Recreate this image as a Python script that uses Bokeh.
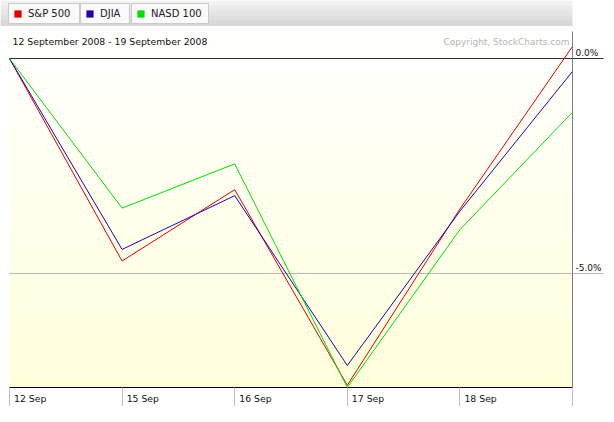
import numpy as np
from bokeh.plotting import figure
from bokeh.models import (Range1d, FixedTicker, Label, Legend, LegendItem, BoxAnnotation)
from bokeh.embed import file_html
from bokeh.resources import INLINE

# ---- data ----
dates = ["12 Sep", "15 Sep", "16 Sep", "17 Sep", "18 Sep", "19 Sep"]
sp500 = [0.0, -4.71, -3.05, -7.60, -3.50, 0.28]
djia = [0.0, -4.44, -3.19, -7.14, -3.55, -0.30]
nasd100 = [0.0, -3.48, -2.45, -7.65, -3.98, -1.25]
series_names = ["S&P 500", "DJIA", "NASD 100"]
series_colors = ["#e00000", "#2200aa", "#00dd00"]
y_ticks = [0.0, -5.0]
y_tick_labels = ["0.0%", "-5.0%"]
ref_line_colors = ["#303030", "#b8b8b8"]
date_range_text = "12 September 2008 - 19 September 2008"
copyright_text = "Copyright, StockCharts.com"

FONT = "DejaVu Sans"
idx = list(range(len(dates)))

# ---- layout (pixels) ----
W, H = 604, 406
BR, BB = 31, 19
FW, FH = W - BR, H - BB          # frame spans canvas x 0..573, y 0..387
PLOT_LEFT, PLOT_TOP = 9, 31      # inner chart box inside the frame
PX_Y = 43.0                      # pixels per 1 %
ZERO_Y = 58                      # pixel row of 0 %
px_x = (FW - PLOT_LEFT) / (len(dates) - 1)

y_min = -(FH - ZERO_Y) / PX_Y
y_top = ZERO_Y / PX_Y
y_plot_top = (ZERO_Y - PLOT_TOP) / PX_Y
x_start = -PLOT_LEFT / px_x
x_end = len(dates) - 1

p = figure(width=W, height=H, output_backend="svg", toolbar_location=None,
           x_range=Range1d(x_start, x_end), y_range=Range1d(y_min, y_top),
           y_axis_location="right", min_border_left=0, min_border_right=BR,
           min_border_top=0, min_border_bottom=BB)
p.outline_line_color = None
p.xgrid.visible = False
p.ygrid.visible = False
p.background_fill_color = "white"
p.border_fill_color = "white"

# background gradient (white -> pale yellow) inside the chart box
n_bands = 80
edges = np.linspace(y_plot_top, y_min, n_bands + 1)
c0 = np.array([255, 255, 255])
c1 = np.array([255, 255, 218])
cols = []
for i in range(n_bands):
    t = (i + 0.5) / n_bands
    c = (c0 + (c1 - c0) * t).astype(int)
    cols.append("#%02x%02x%02x" % tuple(c))
p.quad(left=0, right=x_end, top=edges[:-1], bottom=edges[1:],
       fill_color=cols, line_color=None)

# header strip behind tabs
strip_cols = ["#f2f2f2", "#ebebeb", "#e5e5e5", "#dfdfdf", "#d8d8d8"]
strip_h = 25.0
step = strip_h / len(strip_cols)
for k, sc in enumerate(strip_cols):
    p.add_layout(BoxAnnotation(left=0, right=W, top=FH - k * step,
                               bottom=FH - (k + 1) * step - 0.5,
                               left_units="screen", right_units="screen",
                               top_units="screen", bottom_units="screen",
                               fill_color=sc, fill_alpha=1, line_color=None,
                               level="underlay"))

# reference lines at the y ticks
p.segment(x0=0, x1=x_end, y0=y_ticks, y1=y_ticks, line_color=ref_line_colors, line_width=1)
# right border of the chart box
p.segment(x0=[x_end], x1=[x_end], y0=[y_min], y1=[y_plot_top], line_color="black", line_width=1)

# series lines
for vals, col in zip([sp500, djia, nasd100], series_colors):
    p.line(idx, vals, line_color=col, line_width=1)

# x axis
xa = p.xaxis[0]
label_w = 32.3
shift = (4.6 + label_w / 2) / px_x
major = [i + shift for i in idx[:-1]]
xa.ticker = FixedTicker(ticks=major, minor_ticks=idx)
xa.major_label_overrides = {t: d for t, d in zip(major, dates[:-1])}
xa.bounds = (0, x_end)
xa.major_tick_out = 0
xa.major_tick_in = 0
xa.major_tick_line_color = None
xa.minor_tick_out = 21
xa.minor_tick_in = 0
xa.minor_tick_line_color = "#c0c0c0"
xa.major_label_standoff = 5 - 21
xa.axis_line_color = "black"
xa.major_label_text_font = FONT
xa.major_label_text_font_size = "9.3px"
xa.major_label_text_color = "#101010"

# y axis (right): tick extensions + labels sitting above the lines
ya = p.yaxis[0]
ya.ticker = FixedTicker(ticks=y_ticks, minor_ticks=[y_ticks[0]])
ya.major_label_overrides = {t: s + "\n" for t, s in zip(y_ticks, y_tick_labels)}
ya.major_tick_out = BR
ya.major_tick_in = 0
ya.major_tick_line_color = ref_line_colors[1]
ya.minor_tick_out = BR
ya.minor_tick_in = 0
ya.minor_tick_line_color = ref_line_colors[0]
ya.major_label_standoff = 3 - BR
ya.major_label_orientation = "horizontal"
ya.axis_line_color = None
ya.major_label_text_font = FONT
ya.major_label_text_font_size = "9px"
ya.major_label_text_color = "#101010"

# texts inside the frame
p.add_layout(Label(x=12, y=FH - 41, x_units="screen", y_units="screen", text=date_range_text,
                   text_font=FONT, text_font_size="9.3px", text_baseline="middle",
                   text_align="left", text_color="#101010"))
p.add_layout(Label(x=569, y=FH - 41, x_units="screen", y_units="screen", text=copyright_text,
                   text_font=FONT, text_font_size="9px", text_baseline="middle",
                   text_align="right", text_color="#b4b4b4"))

# legend tabs
tab_x = [8, 80, 131]
tab_label_w = [47, 25, 53]
nan = float("nan")
for name, col, tx, lw in zip(series_names, series_colors, tab_x, tab_label_w):
    r = p.quad(left=[nan], right=[nan], top=[nan], bottom=[nan],
               fill_color=col, line_color=None)
    lg = Legend(items=[LegendItem(label=name, renderers=[r])], location=(tx, FH - 24),
                orientation="horizontal", glyph_width=9, glyph_height=9,
                label_standoff=6, padding=4, spacing=0, margin=0,
                label_height=10, label_width=lw, label_text_font=FONT,
                label_text_font_size="10px",
                label_text_color="#202020", border_line_color="#9c9c9c",
                background_fill_color="#fafafa", background_fill_alpha=1)
    p.add_layout(lg)

open("out.html", "w").write(file_html(p, INLINE))
